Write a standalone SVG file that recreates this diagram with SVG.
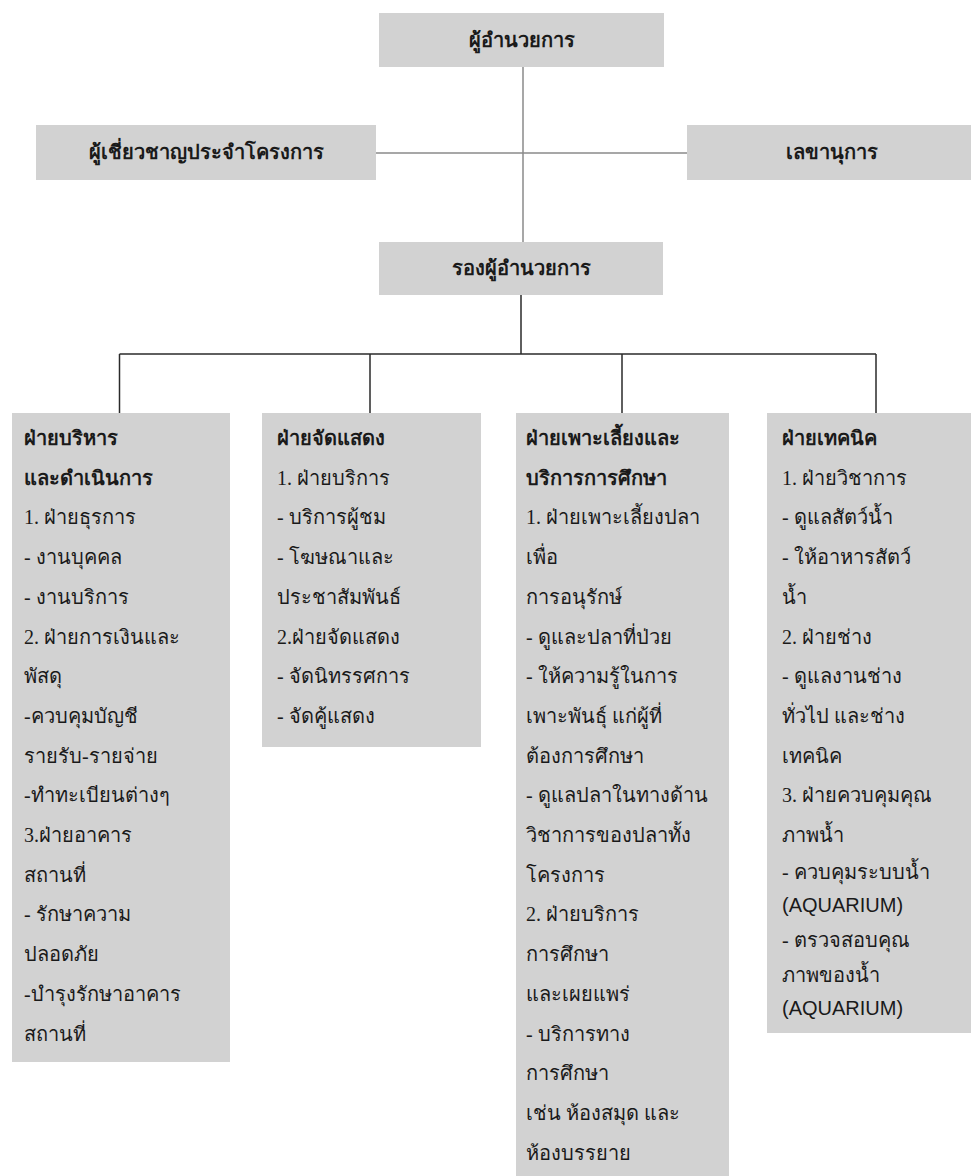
<svg xmlns="http://www.w3.org/2000/svg" width="971" height="1176" viewBox="0 0 971 1176">
<style>
.box{fill:#d2d2d2;stroke:none}
.top{font-family:"Liberation Serif",serif;font-size:20px;font-weight:bold;fill:#1a1a1a;text-anchor:middle}
.t{font-family:"Liberation Serif",serif;font-size:20px;fill:#1a1a1a}
.b{font-weight:bold}
.s{font-family:"Liberation Sans",Arial,sans-serif;font-size:20px;fill:#1a1a1a}
.c1{stroke:#8a8a8a;stroke-width:1.5;fill:none}
.c2{stroke:#2a2a2a;stroke-width:1.5;fill:none}
</style>
<rect width="971" height="1176" fill="#ffffff"/>
<g id="connectors">
<line class="c1" x1="523" y1="67" x2="523" y2="242"/>
<line class="c1" x1="376" y1="153" x2="687" y2="153"/>
<line class="c2" x1="521" y1="295" x2="521" y2="354"/>
<line class="c2" x1="119.5" y1="354" x2="876" y2="354"/>
<line class="c2" x1="119.5" y1="354" x2="119.5" y2="413"/>
<line class="c2" x1="370" y1="354" x2="370" y2="413"/>
<line class="c2" x1="622" y1="354" x2="622" y2="413"/>
<line class="c2" x1="876" y1="354" x2="876" y2="413"/>
</g>
<g id="director">
<rect class="box" x="379" y="13" width="285" height="54"/>
<text class="top" x="522" y="47">ผู้อำนวยการ</text>
</g>
<g id="expert">
<rect class="box" x="36" y="125" width="340" height="55"/>
<text class="top" x="206" y="159">ผู้เชี่ยวชาญประจำโครงการ</text>
</g>
<g id="secretary">
<rect class="box" x="687" y="125" width="290" height="55"/>
<text class="top" x="832" y="159">เลขานุการ</text>
</g>
<g id="deputy">
<rect class="box" x="379" y="242" width="284" height="53"/>
<text class="top" x="521" y="275">รองผู้อำนวยการ</text>
</g>
<g id="admin">
<rect class="box" x="12" y="413" width="218" height="649"/>
<text class="t b" x="24" y="445">ฝ่ายบริหาร</text>
<text class="t b" x="24" y="484.7">และดำเนินการ</text>
<text class="t" x="24" y="524.4">1. ฝ่ายธุรการ</text>
<text class="t" x="24" y="564.1">- งานบุคคล</text>
<text class="t" x="24" y="603.8">- งานบริการ</text>
<text class="t" x="24" y="643.5">2. ฝ่ายการเงินและ</text>
<text class="t" x="24" y="683.2">พัสดุ</text>
<text class="t" x="24" y="722.9">-ควบคุมบัญชี</text>
<text class="t" x="24" y="762.6">รายรับ-รายจ่าย</text>
<text class="t" x="24" y="802.3">-ทำทะเบียนต่างๆ</text>
<text class="t" x="24" y="842">3.ฝ่ายอาคาร</text>
<text class="t" x="24" y="881.7">สถานที่</text>
<text class="t" x="24" y="921.4">- รักษาความ</text>
<text class="t" x="24" y="961.1">ปลอดภัย</text>
<text class="t" x="24" y="1000.8">-บำรุงรักษาอาคาร</text>
<text class="t" x="24" y="1040.5">สถานที่</text>
</g>
<g id="exhibit">
<rect class="box" x="262" y="413" width="219" height="334"/>
<text class="t b" x="277" y="445">ฝ่ายจัดแสดง</text>
<text class="t" x="277" y="484.7">1. ฝ่ายบริการ</text>
<text class="t" x="277" y="524.4">- บริการผู้ชม</text>
<text class="t" x="277" y="564.1">- โฆษณาและ</text>
<text class="t" x="277" y="603.8">ประชาสัมพันธ์</text>
<text class="t" x="277" y="643.5">2.ฝ่ายจัดแสดง</text>
<text class="t" x="277" y="683.2">- จัดนิทรรศการ</text>
<text class="t" x="277" y="722.9">- จัดคู้แสดง</text>
</g>
<g id="culture">
<rect class="box" x="516" y="413" width="213" height="763"/>
<text class="t b" x="526" y="445">ฝ่ายเพาะเลี้ยงและ</text>
<text class="t b" x="526" y="484.7">บริการการศึกษา</text>
<text class="t" x="526" y="524.4">1. ฝ่ายเพาะเลี้ยงปลา</text>
<text class="t" x="526" y="564.1">เพื่อ</text>
<text class="t" x="526" y="603.8">การอนุรักษ์</text>
<text class="t" x="526" y="643.5">- ดูและปลาที่ป่วย</text>
<text class="t" x="526" y="683.2">- ให้ความรู้ในการ</text>
<text class="t" x="526" y="722.9">เพาะพันธุ์ แก่ผู้ที่</text>
<text class="t" x="526" y="762.6">ต้องการศึกษา</text>
<text class="t" x="526" y="802.3">- ดูแลปลาในทางด้าน</text>
<text class="t" x="526" y="842">วิชาการของปลาทั้ง</text>
<text class="t" x="526" y="881.7">โครงการ</text>
<text class="t" x="526" y="921.4">2. ฝ่ายบริการ</text>
<text class="t" x="526" y="961.1">การศึกษา</text>
<text class="t" x="526" y="1000.8">และเผยแพร่</text>
<text class="t" x="526" y="1040.5">- บริการทาง</text>
<text class="t" x="526" y="1080.2">การศึกษา</text>
<text class="t" x="526" y="1119.9">เช่น ห้องสมุด และ</text>
<text class="t" x="526" y="1159.6">ห้องบรรยาย</text>
</g>
<g id="technical">
<rect class="box" x="767" y="413" width="220" height="620"/>
<text class="t b" x="782" y="445">ฝ่ายเทคนิค</text>
<text class="t" x="782" y="484.7">1. ฝ่ายวิชาการ</text>
<text class="t" x="782" y="524.4">- ดูแลสัตว์น้ำ</text>
<text class="t" x="782" y="564.1">- ให้อาหารสัตว์</text>
<text class="t" x="782" y="603.8">น้ำ</text>
<text class="t" x="782" y="643.5">2. ฝ่ายช่าง</text>
<text class="t" x="782" y="683.2">- ดูแลงานช่าง</text>
<text class="t" x="782" y="722.9">ทั่วไป และช่าง</text>
<text class="t" x="782" y="762.6">เทคนิค</text>
<text class="t" x="782" y="802.3">3. ฝ่ายควบคุมคุณ</text>
<text class="t" x="782" y="842">ภาพน้ำ</text>
<text class="t" x="782" y="879">- ควบคุมระบบน้ำ</text>
<text class="s" x="782" y="912">(AQUARIUM)</text>
<text class="t" x="782" y="947">- ตรวจสอบคุณ</text>
<text class="t" x="782" y="982">ภาพของน้ำ</text>
<text class="s" x="782" y="1015">(AQUARIUM)</text>
</g>
</svg>
